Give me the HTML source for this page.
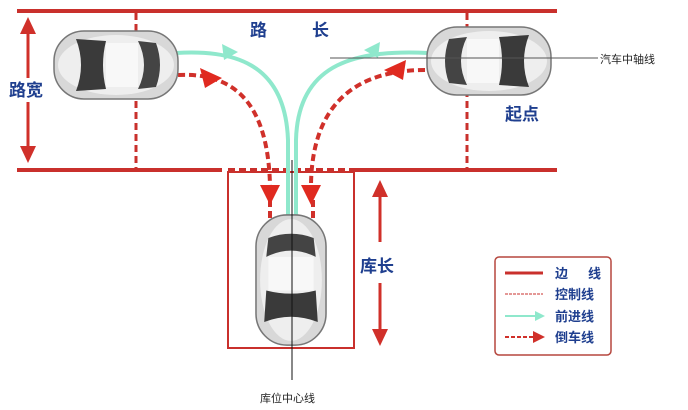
<!DOCTYPE html>
<html><head><meta charset="utf-8"><style>
body{margin:0;background:#fff;}
svg{display:block;}
text{font-family:"Liberation Sans","Noto Sans CJK SC",sans-serif;}
.b{fill:#1f3f8f;font-weight:bold;font-size:17px;}
</style></head><body>
<svg width="688" height="410" viewBox="0 0 688 410">
<defs>
<g id="car">
<rect x="-62" y="-34" width="124" height="68" rx="30" fill="#d8d8d8" stroke="#777" stroke-width="1.5"/>
<ellipse cx="0" cy="0" rx="58" ry="30" fill="#eeeeee"/>
<path d="M-40,-26 Q-30,0 -40,26 L-10,24 Q-16,0 -10,-24Z" fill="#3a3a3a"/>
<path d="M22,-24 Q34,0 22,24 L40,22 Q48,0 40,-22Z" fill="#444"/>
<rect x="-10" y="-22" width="32" height="44" fill="#f8f8f8"/>
</g>
</defs>
<g stroke="#c9302c" stroke-width="4" fill="none">
<line x1="17" y1="11" x2="557" y2="11"/>
<line x1="17" y1="170" x2="222" y2="170"/>
<line x1="352" y1="170" x2="557" y2="170"/>
</g>
<line x1="228" y1="170" x2="352" y2="170" stroke="#c9302c" stroke-width="4" stroke-dasharray="7,4"/>
<g stroke="#c9302c" stroke-width="3" stroke-dasharray="7,4">
<line x1="136" y1="13" x2="136" y2="168"/>
<line x1="467" y1="13" x2="467" y2="168"/>
</g>
<rect x="228" y="172" width="126" height="176" fill="none" stroke="#c9302c" stroke-width="2"/>
<g stroke="#d0302a" stroke-width="3">
<line x1="28" y1="30" x2="28" y2="78"/><line x1="28" y1="102" x2="28" y2="150"/>
<line x1="380" y1="195" x2="380" y2="242"/><line x1="380" y1="283" x2="380" y2="330"/>
</g>
<g fill="#d0302a">
<polygon points="28,17 20,34 36,34"/><polygon points="28,163 20,146 36,146"/>
<polygon points="380,180 372,197 388,197"/><polygon points="380,346 372,329 388,329"/>
</g>
<g stroke="#8fe8cc" stroke-width="4" fill="none">
<path d="M176,53 C230,50 285,60 288,140 L288,215"/>
<path d="M428,53 C360,50 298,60 296,140 L296,215"/>
</g>
<polygon points="238,52 222,44 224,60" fill="#8fe8cc"/>
<polygon points="364,50 380,42 378,58" fill="#8fe8cc"/>
<g stroke="#d0302a" stroke-width="4" fill="none" stroke-dasharray="7,4">
<path d="M178,75 C240,72 268,110 270,185"/>
<path d="M425,70 C360,70 312,100 311,185"/>
<path d="M270,200 L270,218"/><path d="M313,200 L313,218"/>
</g>
<g fill="#e02a20">
<polygon points="222,78 200,68 205,88"/>
<polygon points="384,70 406,60 403,80"/>
<polygon points="270,205 260,185 280,185"/>
<polygon points="311,205 301,185 321,185"/>
</g>
<use href="#car" transform="translate(116,65)"/>
<use href="#car" transform="translate(489,61) scale(-1,1)"/>
<use href="#car" transform="translate(291,280) rotate(-90) scale(1.05,1.03)"/>
<line x1="330" y1="58" x2="598" y2="58" stroke="#555" stroke-width="1"/>
<line x1="292" y1="160" x2="292" y2="380" stroke="#111" stroke-width="1"/>
<text x="250" y="36" class="b">路</text><text x="312" y="36" class="b">长</text>
<text x="9" y="96" class="b">路宽</text>
<text x="505" y="120" class="b">起点</text>
<text x="360" y="272" class="b">库长</text>
<text x="600" y="63" font-size="11" fill="#222">汽车中轴线</text>
<text x="260" y="402" font-size="11" fill="#222">库位中心线</text>
<rect x="495" y="257" width="116" height="98" rx="4" fill="#fff" stroke="#b5473e" stroke-width="1.5"/>
<line x1="505" y1="273" x2="543" y2="273" stroke="#c9302c" stroke-width="3"/>
<line x1="505" y1="294" x2="543" y2="294" stroke="#c9302c" stroke-width="1" stroke-dasharray="3,1"/>
<line x1="505" y1="316" x2="537" y2="316" stroke="#8fe8cc" stroke-width="2"/>
<polygon points="545,316 535,311 535,321" fill="#8fe8cc"/>
<line x1="505" y1="337" x2="535" y2="337" stroke="#d0302a" stroke-width="2" stroke-dasharray="4,2"/>
<polygon points="545,337 533,331 533,343" fill="#d0302a"/>
<g class="b" style="font-size:13px">
<text x="555" y="278">边</text><text x="588" y="278">线</text>
<text x="555" y="299">控制线</text>
<text x="555" y="321">前进线</text>
<text x="555" y="342">倒车线</text>
</g>
</svg>
</body></html>
